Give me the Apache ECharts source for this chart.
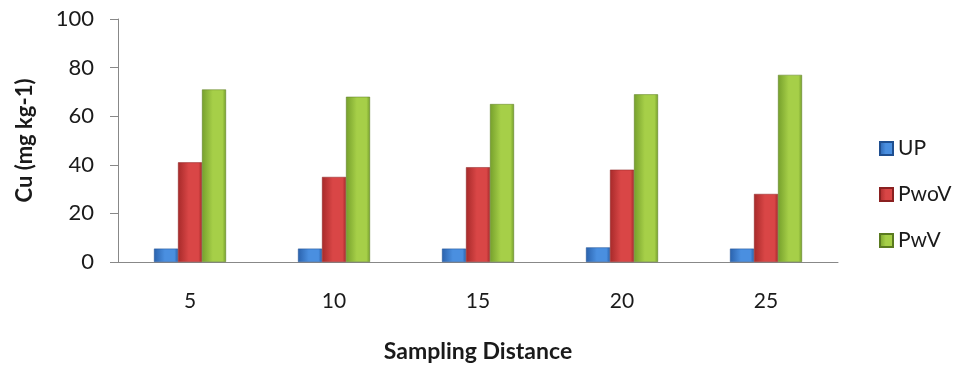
<!DOCTYPE html>
<html><head><meta charset="utf-8">
<script src="https://cdn.jsdelivr.net/npm/echarts@6/dist/echarts.min.js"></script>
<style>html,body{margin:0;padding:0;background:#fff}#c{width:960px;height:368px}</style>
</head><body><div id="c"></div>
<script>
const categories = ['5', '10', '15', '20', '25'];
const upValues = [5.5, 5.5, 5.5, 6, 5.5];
const pwoVValues = [41, 35, 39, 38, 28];
const pwVValues = [71, 68, 65, 69, 77];
const yTicks = [0, 20, 40, 60, 80, 100];

const FONT = 'Lato';
function grad(edge, mid) {
  return new echarts.graphic.LinearGradient(0, 0, 1, 0, [
    {offset: 0, color: edge}, {offset: 0.45, color: mid}, {offset: 0.85, color: mid}, {offset: 1, color: edge}
  ]);
}
const chart = echarts.init(document.getElementById('c'), null, {renderer: 'canvas'});
chart.setOption({
  animation: false,
  textStyle: {fontFamily: FONT},
  grid: {left: 118, right: 122, top: 19, bottom: 106, containLabel: false},
  legend: {
    orient: 'vertical', left: 874, top: 133, itemWidth: 13, itemHeight: 13, itemGap: 25,
    icon: 'rect',
    textStyle: {fontFamily: FONT, fontSize: 21, lineHeight: 21, color: '#1a1a1a', padding: [0,0,0,0]},
    data: ['UP', 'PwoV', 'PwV']
  },
  xAxis: {
    type: 'category', data: categories,
    name: 'Sampling Distance', nameLocation: 'middle', nameGap: 78,
    nameTextStyle: {fontFamily: FONT, fontSize: 23, fontWeight: 'bold', color: '#1a1a1a'},
    axisLine: {lineStyle: {color: '#888', width: 1}},
    axisTick: {show: false},
    axisLabel: {fontFamily: FONT, fontSize: 21, color: '#1a1a1a', margin: 29}
  },
  yAxis: {
    type: 'value', min: yTicks[0], max: yTicks[yTicks.length - 1], interval: 20,
    name: 'Cu (mg kg-1)', nameLocation: 'middle', nameGap: 82, nameRotate: 90,
    nameTextStyle: {fontFamily: FONT, fontSize: 22, fontWeight: 'bold', color: '#1a1a1a'},
    axisLine: {show: true, lineStyle: {color: '#888', width: 1}},
    axisTick: {show: true, length: 8, lineStyle: {color: '#888'}},
    splitLine: {show: false},
    axisLabel: {fontFamily: FONT, fontSize: 22, color: '#1a1a1a', margin: 24}
  },
  series: [
    {name: 'UP', type: 'bar', data: upValues, barGap: '0%', barCategoryGap: '50%',
     itemStyle: {color: grad('#2a62ad', '#4a8fe0'), borderColor: '#1f4f90', borderWidth: 0.5}},
    {name: 'PwoV', type: 'bar', data: pwoVValues,
     itemStyle: {color: grad('#a72a2a', '#d94646'), borderColor: '#8a2020', borderWidth: 0.5}},
    {name: 'PwV', type: 'bar', data: pwVValues,
     itemStyle: {color: grad('#76a02c', '#a6cf48'), borderColor: '#5a7a20', borderWidth: 0.5}}
  ]
});
</script></body></html>
